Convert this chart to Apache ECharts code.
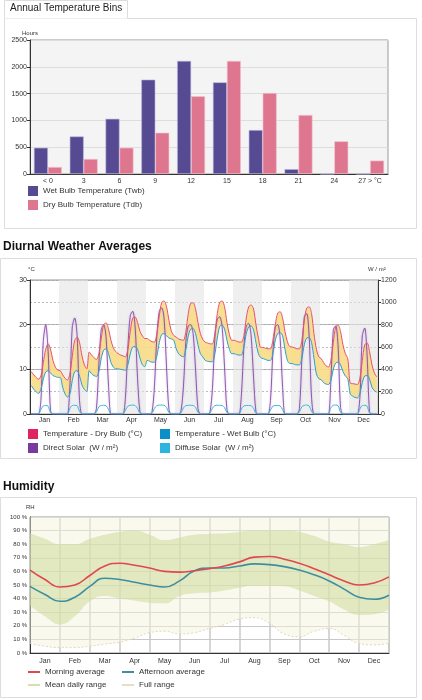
<!DOCTYPE html>
<html>
<head>
<meta charset="utf-8">
<script src="https://cdn.jsdelivr.net/npm/echarts@6/dist/echarts.min.js"></script>
<style>
  html, body { margin: 0; padding: 0; background: #fff; }
  #chart { width: 422px; height: 700px; }
</style>
</head>
<body>
<div id="chart"></div>
<script>
// ---- Annual temperature bins ----
var binLabels = ['< 0', '3', '6', '9', '12', '15', '18', '21', '24', '27 > °C'];
var wetBulbHours = [490, 700, 1030, 1760, 2110, 1710, 820, 90, 0, 0];
var dryBulbHours = [130, 280, 490, 770, 1450, 2110, 1510, 1100, 610, 250];

// ---- Diurnal averages: 12 samples per month (every 2 h) ----
var months = ['Jan', 'Feb', 'Mar', 'Apr', 'May', 'Jun', 'Jul', 'Aug', 'Sep', 'Oct', 'Nov', 'Dec'];
var dryBulb = [
    9.5, 8.8, 8.2, 7.8, 8.5, 11.5, 14.5, 15.7, 14.5, 12, 10.5, 9.8,
    9.7, 8.8, 8.0, 7.6, 9.0, 13, 16.5, 17.2, 16, 13, 11, 10.1,
    13.9, 13.2, 12.6, 12.2, 13.5, 17, 20, 20.4, 19, 16.5, 14.8, 14,
    13.5, 13.2, 13, 12.8, 14.5, 18.5, 21.5, 21.7, 20.5, 18.5, 17.5, 16.9,
    16.9, 16.5, 16.2, 16.1, 18, 22, 25, 25.3, 24, 21, 18.5, 17.6,
    17.2, 16.8, 16.6, 16.5, 18.5, 22.5, 24.8, 24.9, 23.5, 20.5, 18, 16.7,
    16.1, 15.9, 15.7, 15.7, 18, 22.5, 25, 25.3, 24, 20.5, 17.8, 16.5,
    16.5, 16.3, 16.1, 16.1, 17.5, 21.5, 24, 24.4, 23.5, 20, 17, 14.9,
    14.9, 14.7, 14.6, 14.6, 16.5, 20, 22.6, 22.9, 21.5, 18.5, 16.2, 15.1,
    15, 14.8, 14.6, 14.6, 16.5, 21, 23.7, 24, 22.5, 18, 14.5, 12.8,
    12.4, 11.5, 10.8, 10.5, 12, 16, 19.5, 19.9, 18.5, 15.5, 13.5, 12.4,
    6.9, 6.8, 6.7, 6.6, 8, 12, 15.5, 15.9, 14, 11, 9.2, 8.3
];
var wetBulb = [
    6.4, 5.6, 5, 4.6, 5.5, 7.8, 9.4, 9.7, 9.2, 8.6, 8.4, 8.2,
    8.2, 6, 4.5, 3.8, 4.5, 7.5, 9.5, 9.7, 8.5, 6.5, 5.5, 5,
    9.7, 9, 8.6, 8.4, 9.5, 12.5, 14.3, 14.6, 13.5, 11.5, 10.5, 10.1,
    10.1, 10, 9.9, 9.8, 11, 13.5, 15, 15.1, 14.5, 12.5, 11, 10.6,
    12, 11.8, 11.6, 11.6, 13, 16, 17.8, 18, 17.5, 17, 16.8, 16.5,
    14.6, 13.5, 13, 12.8, 14.5, 17.5, 19, 19.1, 18, 15.5, 13.5, 12.8,
    12, 11.8, 11.7, 11.7, 13.5, 17, 19.6, 19.9, 19, 16.5, 14.5, 13.5,
    13.5, 13.3, 13.2, 13.2, 15, 18, 19.5, 19.7, 18.8, 16, 13.5, 12.6,
    12.4, 12.2, 12, 12, 13.5, 16.5, 18, 18.2, 17.5, 14.5, 12, 11.3,
    11.3, 11.1, 11, 11, 12.5, 15.5, 17, 17.1, 16, 12.5, 9, 7.9,
    7.7, 7, 6.7, 6.6, 7.5, 10, 11.4, 11.6, 11, 9.5, 8.5, 7.9,
    4.5, 4, 3.7, 3.6, 4.5, 7, 8.5, 8.6, 7.8, 6, 5.2, 4.9
];
var directSolar = [
    0, 0, 0, 0, 120, 650, 800, 560, 30, 0, 0, 0,
    0, 0, 0, 0, 250, 780, 860, 700, 120, 0, 0, 0,
    0, 0, 0, 50, 450, 760, 800, 680, 250, 0, 0, 0,
    0, 0, 0, 150, 600, 880, 920, 780, 320, 20, 0, 0,
    0, 0, 20, 250, 700, 920, 950, 850, 420, 40, 0, 0,
    0, 0, 30, 250, 650, 790, 800, 720, 400, 50, 0, 0,
    0, 0, 20, 230, 680, 850, 870, 780, 420, 40, 0, 0,
    0, 0, 0, 180, 600, 790, 810, 700, 330, 20, 0, 0,
    0, 0, 0, 120, 550, 780, 800, 680, 250, 0, 0, 0,
    0, 0, 0, 50, 500, 870, 900, 700, 150, 0, 0, 0,
    0, 0, 0, 0, 300, 750, 790, 600, 60, 0, 0, 0,
    0, 0, 0, 0, 150, 700, 770, 520, 20, 0, 0, 0
];
var diffuseSolar = [
    0, 0, 0, 0, 40, 72, 76, 70, 10, 0, 0, 0,
    0, 0, 0, 0, 50, 76, 78, 74, 25, 0, 0, 0,
    0, 0, 0, 20, 65, 76, 78, 74, 40, 0, 0, 0,
    0, 0, 0, 35, 70, 78, 80, 76, 50, 5, 0, 0,
    0, 0, 5, 50, 75, 80, 80, 78, 58, 12, 0, 0,
    0, 0, 10, 55, 75, 78, 78, 76, 60, 15, 0, 0,
    0, 0, 8, 52, 75, 78, 78, 76, 58, 12, 0, 0,
    0, 0, 0, 45, 72, 76, 76, 74, 50, 5, 0, 0,
    0, 0, 0, 35, 70, 76, 76, 72, 40, 0, 0, 0,
    0, 0, 0, 20, 65, 78, 80, 72, 25, 0, 0, 0,
    0, 0, 0, 0, 55, 78, 80, 74, 15, 0, 0, 0,
    0, 0, 0, 0, 45, 76, 78, 70, 8, 0, 0, 0
];

// ---- Humidity: 25 samples, twice a month ----
var morningRH = [61, 54, 48.5, 50, 57, 64, 66, 64.5, 62.5, 60, 59.5, 60.5, 62, 64, 67, 70.5, 71, 69, 66, 62, 57.5, 53, 50, 51.5, 56];
var afternoonRH = [49, 43, 38, 41, 49, 55, 54, 52, 50, 48.5, 53, 60.5, 62.5, 62.5, 64, 65.5, 65, 63.5, 61, 57.5, 53, 47, 41, 39.5, 42.5];
var meanHighRH = [88, 84, 80, 80, 84, 87, 89, 90, 87, 83, 85, 87, 87.5, 88, 89, 90, 90, 90, 89, 86, 82, 80, 78, 80, 83];
var meanLowRH = [35, 27, 21, 27, 38, 42, 40, 38.5, 37, 36.5, 42, 44, 44.5, 46, 48, 49.5, 49.5, 49, 46, 42, 38, 32, 28, 28.5, 32];
var fullLowRH = [7, 5, 4, 4, 5, 6.5, 8, 11, 15, 16, 14, 15, 18, 21, 25, 26, 22, 14, 12, 16, 18, 13, 7, 6, 7];

var hourIdx = dryBulb.map(function (v, i) { return i; });
var halfIdx = morningRH.map(function (v, i) { return i; });
var dryMinusWet = dryBulb.map(function (v, i) { return +(v - wetBulb[i]).toFixed(2); });
var meanSpan = meanHighRH.map(function (v, i) { return v - meanLowRH[i]; });
var fullSpan = fullLowRH.map(function (v) { return 100 - v; });

var lbl = { fontSize: 7, color: '#333', fontFamily: 'Liberation Sans' };
var legText = { fontSize: 8, color: '#333', fontFamily: 'Liberation Sans' };

function oneLegend(name, left, top, icon, w, h, color) {
    var st = { borderWidth: 0 };
    if (color) st.color = color;
    return {
        data: [name], left: left, top: top, icon: icon, itemWidth: w, itemHeight: h,
        textStyle: legText, selectedMode: false, padding: 0, itemStyle: st
    };
}

var option = {
    animation: false,
    textStyle: { fontFamily: 'Liberation Sans' },
    graphic: [
        { type: 'rect', shape: { x: 4.5, y: 18.5, width: 412, height: 210 }, style: { fill: 'none', stroke: '#ddd' } },
        { type: 'polyline', shape: { points: [[4.5, 18.5], [4.5, 0.5], [127.5, 0.5], [127.5, 18.5]] }, style: { fill: '#fff', stroke: '#ddd' } },
        { type: 'text', left: 10, top: 3, style: { text: 'Annual Temperature Bins', fontSize: 10, fill: '#222', font: '10px Liberation Sans' } },
        { type: 'text', left: 22, top: 30, style: { text: 'Hours', fontSize: 6, fill: '#333', font: '6px Liberation Sans' } },
        { type: 'text', left: 3, top: 241, style: { text: 'Diurnal Weather Averages', fill: '#111', font: 'bold 12px Liberation Sans' } },
        { type: 'rect', shape: { x: 0.5, y: 258.5, width: 416, height: 200 }, style: { fill: 'none', stroke: '#ddd' } },
        { type: 'text', left: 28, top: 266, style: { text: '°C', fill: '#333', font: '6px Liberation Sans' } },
        { type: 'text', left: 368, top: 266, style: { text: 'W / m²', fill: '#333', font: '6px Liberation Sans' } },
        { type: 'text', left: 3, top: 481, style: { text: 'Humidity', fill: '#111', font: 'bold 12px Liberation Sans' } },
        { type: 'rect', shape: { x: 0.5, y: 497.5, width: 416, height: 200 }, style: { fill: 'none', stroke: '#ddd' } },
        { type: 'text', left: 26, top: 504, style: { text: 'RH', fill: '#333', font: '6px Liberation Sans' } }
    ],
    legend: [
        oneLegend('Wet Bulb Temperature (Twb)', 28, 186, 'rect', 10, 10),
        oneLegend('Dry Bulb Temperature (Tdb)', 28, 200, 'rect', 10, 10),
        oneLegend('Temperature - Dry Bulb (°C)', 28, 429, 'rect', 10, 10),
        oneLegend('Temperature - Wet Bulb (°C)', 160, 429, 'rect', 10, 10),
        oneLegend('Direct Solar  (W / m²)', 28, 443, 'rect', 10, 10, '#7a3a9c'),
        oneLegend('Diffuse Solar  (W / m²)', 160, 443, 'rect', 10, 10),
        oneLegend('Morning average', 28, 668, 'rect', 12, 2),
        oneLegend('Afternoon average', 122, 668, 'rect', 12, 2),
        oneLegend('Mean daily range', 28, 681, 'rect', 12, 2, '#d6e0a8'),
        oneLegend('Full range', 122, 681, 'rect', 12, 2, '#eadcc0')
    ],
    grid: [
        { left: 30, right: 34, top: 40, height: 134, show: true, backgroundColor: '#f4f4f4', borderColor: '#999' },
        { left: 30, right: 44, top: 280, height: 134, show: true, backgroundColor: '#fff', borderColor: '#999' },
        { left: 30, right: 33, top: 517, height: 136, show: true, backgroundColor: '#fff', borderColor: '#999' }
    ],
    xAxis: [
        {
            gridIndex: 0, type: 'category', data: binLabels,
            axisLine: { lineStyle: { color: '#333' } }, axisTick: { lineStyle: { color: '#333' }, length: 3 },
            axisLabel: Object.assign({ margin: 4 }, lbl)
        },
        {
            gridIndex: 1, type: 'category', data: months,
            splitArea: { show: true, areaStyle: { color: ['rgba(255,255,255,0)', 'rgba(228,228,228,0.6)'] } },
            axisLine: { lineStyle: { color: '#333' } }, axisTick: { lineStyle: { color: '#333' }, length: 4 },
            axisLabel: Object.assign({ margin: 3 }, lbl)
        },
        { gridIndex: 1, type: 'category', data: hourIdx, show: false },
        {
            gridIndex: 2, type: 'category', data: months,
            splitLine: { show: true, lineStyle: { color: '#c8c8c8', width: 1.5 } },
            axisLine: { lineStyle: { color: '#333' } }, axisTick: { show: false },
            axisLabel: Object.assign({ margin: 5 }, lbl)
        },
        { gridIndex: 2, type: 'category', data: halfIdx, boundaryGap: false, show: false }
    ],
    yAxis: [
        {
            gridIndex: 0, type: 'value', min: 0, max: 2500, interval: 500,
            axisLine: { show: true, lineStyle: { color: '#333' } }, axisTick: { show: true, length: 3 },
            axisLabel: Object.assign({ margin: 3, formatter: function (v) { return String(v); } }, lbl),
            splitLine: { lineStyle: { color: '#ddd' } }
        },
        {
            gridIndex: 1, type: 'value', min: 0, max: 30, interval: 10,
            axisLine: { show: true, lineStyle: { color: '#333' } }, axisTick: { show: true, length: 3 },
            axisLabel: Object.assign({ margin: 3 }, lbl),
            splitLine: { lineStyle: { color: '#aaa' } }
        },
        {
            gridIndex: 1, type: 'value', min: 0, max: 1200, interval: 200, position: 'right',
            axisLine: { show: true, lineStyle: { color: '#333' } }, axisTick: { show: true, length: 3 },
            axisLabel: Object.assign({ margin: 3, formatter: function (v) { return String(v); } }, lbl),
            splitLine: { lineStyle: { color: '#bbb', type: [2, 2] } }
        },
        {
            gridIndex: 2, type: 'value', min: 0, max: 100, interval: 10,
            axisLine: { show: true, lineStyle: { color: '#333' } }, axisTick: { show: false },
            axisLabel: Object.assign({ margin: 3, formatter: '{value} %' }, lbl, { fontSize: 6 }),
            splitLine: { lineStyle: { color: '#c8c8c8' } }
        }
    ],
    series: [
        {
            name: 'Wet Bulb Temperature (Twb)', type: 'bar', xAxisIndex: 0, yAxisIndex: 0,
            data: wetBulbHours, barGap: '0%', barCategoryGap: '22%',
            itemStyle: { color: '#564a93', borderColor: '#b9b3d8', borderWidth: 0.6 }
        },
        {
            name: 'Dry Bulb Temperature (Tdb)', type: 'bar', xAxisIndex: 0, yAxisIndex: 0,
            data: dryBulbHours,
            itemStyle: { color: '#de7690', borderColor: '#f3c2cf', borderWidth: 0.6 }
        },
        // diurnal band between wet and dry bulb
        {
            name: 'base', type: 'line', xAxisIndex: 2, yAxisIndex: 1, stack: 'band',
            data: wetBulb, symbol: 'none', lineStyle: { width: 0 }, silent: true
        },
        {
            name: 'band', type: 'line', xAxisIndex: 2, yAxisIndex: 1, stack: 'band',
            data: dryMinusWet, symbol: 'none', lineStyle: { width: 0 }, silent: true,
            areaStyle: { color: '#f8dc86', opacity: 0.9 }
        },
        {
            name: 'Direct Solar  (W / m²)', type: 'line', xAxisIndex: 2, yAxisIndex: 2,
            data: directSolar, symbol: 'none', smooth: 0.3,
            lineStyle: { color: '#7a3a9c', width: 0.8, shadowColor: 'rgba(180,140,210,0.9)', shadowBlur: 2 },
            itemStyle: { color: '#7a3a9c' }
        },
        {
            name: 'Diffuse Solar  (W / m²)', type: 'line', xAxisIndex: 2, yAxisIndex: 2,
            data: diffuseSolar, symbol: 'none', smooth: 0.3,
            lineStyle: { color: '#3ab8e0', width: 1 }, itemStyle: { color: '#2bb5e0' }
        },
        {
            name: 'Temperature - Wet Bulb (°C)', type: 'line', xAxisIndex: 2, yAxisIndex: 1,
            data: wetBulb, symbol: 'none', smooth: 0.3,
            lineStyle: { color: '#2a9fd0', width: 1 }, itemStyle: { color: '#0a8fc9' }
        },
        {
            name: 'Temperature - Dry Bulb (°C)', type: 'line', xAxisIndex: 2, yAxisIndex: 1,
            data: dryBulb, symbol: 'none', smooth: 0.3,
            lineStyle: { color: '#e8506f', width: 1 }, itemStyle: { color: '#e0245e' }
        },
        // humidity bands
        {
            name: 'fullBase', type: 'line', xAxisIndex: 4, yAxisIndex: 3, stack: 'full',
            data: fullLowRH, symbol: 'none', smooth: true,
            lineStyle: { color: '#e6d8b8', width: 1, type: [2, 2] }, silent: true
        },
        {
            name: 'Full range', type: 'line', xAxisIndex: 4, yAxisIndex: 3, stack: 'full',
            data: fullSpan, symbol: 'none', smooth: true, lineStyle: { width: 0 },
            areaStyle: { color: 'rgba(242,242,220,0.7)' }, itemStyle: { color: '#eadcc0' }
        },
        {
            name: 'meanBase', type: 'line', xAxisIndex: 4, yAxisIndex: 3, stack: 'mean',
            data: meanLowRH, symbol: 'none', smooth: true, lineStyle: { width: 0 }, silent: true
        },
        {
            name: 'Mean daily range', type: 'line', xAxisIndex: 4, yAxisIndex: 3, stack: 'mean',
            data: meanSpan, symbol: 'none', smooth: true, lineStyle: { width: 0 },
            areaStyle: { color: 'rgba(205,218,150,0.75)' }, itemStyle: { color: '#d6e0a8' }
        },
        {
            name: 'Afternoon average', type: 'line', xAxisIndex: 4, yAxisIndex: 3,
            data: afternoonRH, symbol: 'none', smooth: true,
            lineStyle: { color: '#3f8ea0', width: 1.6 }, itemStyle: { color: '#3f8ea0' }
        },
        {
            name: 'Morning average', type: 'line', xAxisIndex: 4, yAxisIndex: 3,
            data: morningRH, symbol: 'none', smooth: true,
            lineStyle: { color: '#e0474f', width: 1.6 }, itemStyle: { color: '#e0474f' }
        }
    ]
};

var myChart = echarts.init(document.getElementById('chart'));
myChart.setOption(option);
window.addEventListener('resize', function () {
    myChart.resize();
});
</script>
</body>
</html>
